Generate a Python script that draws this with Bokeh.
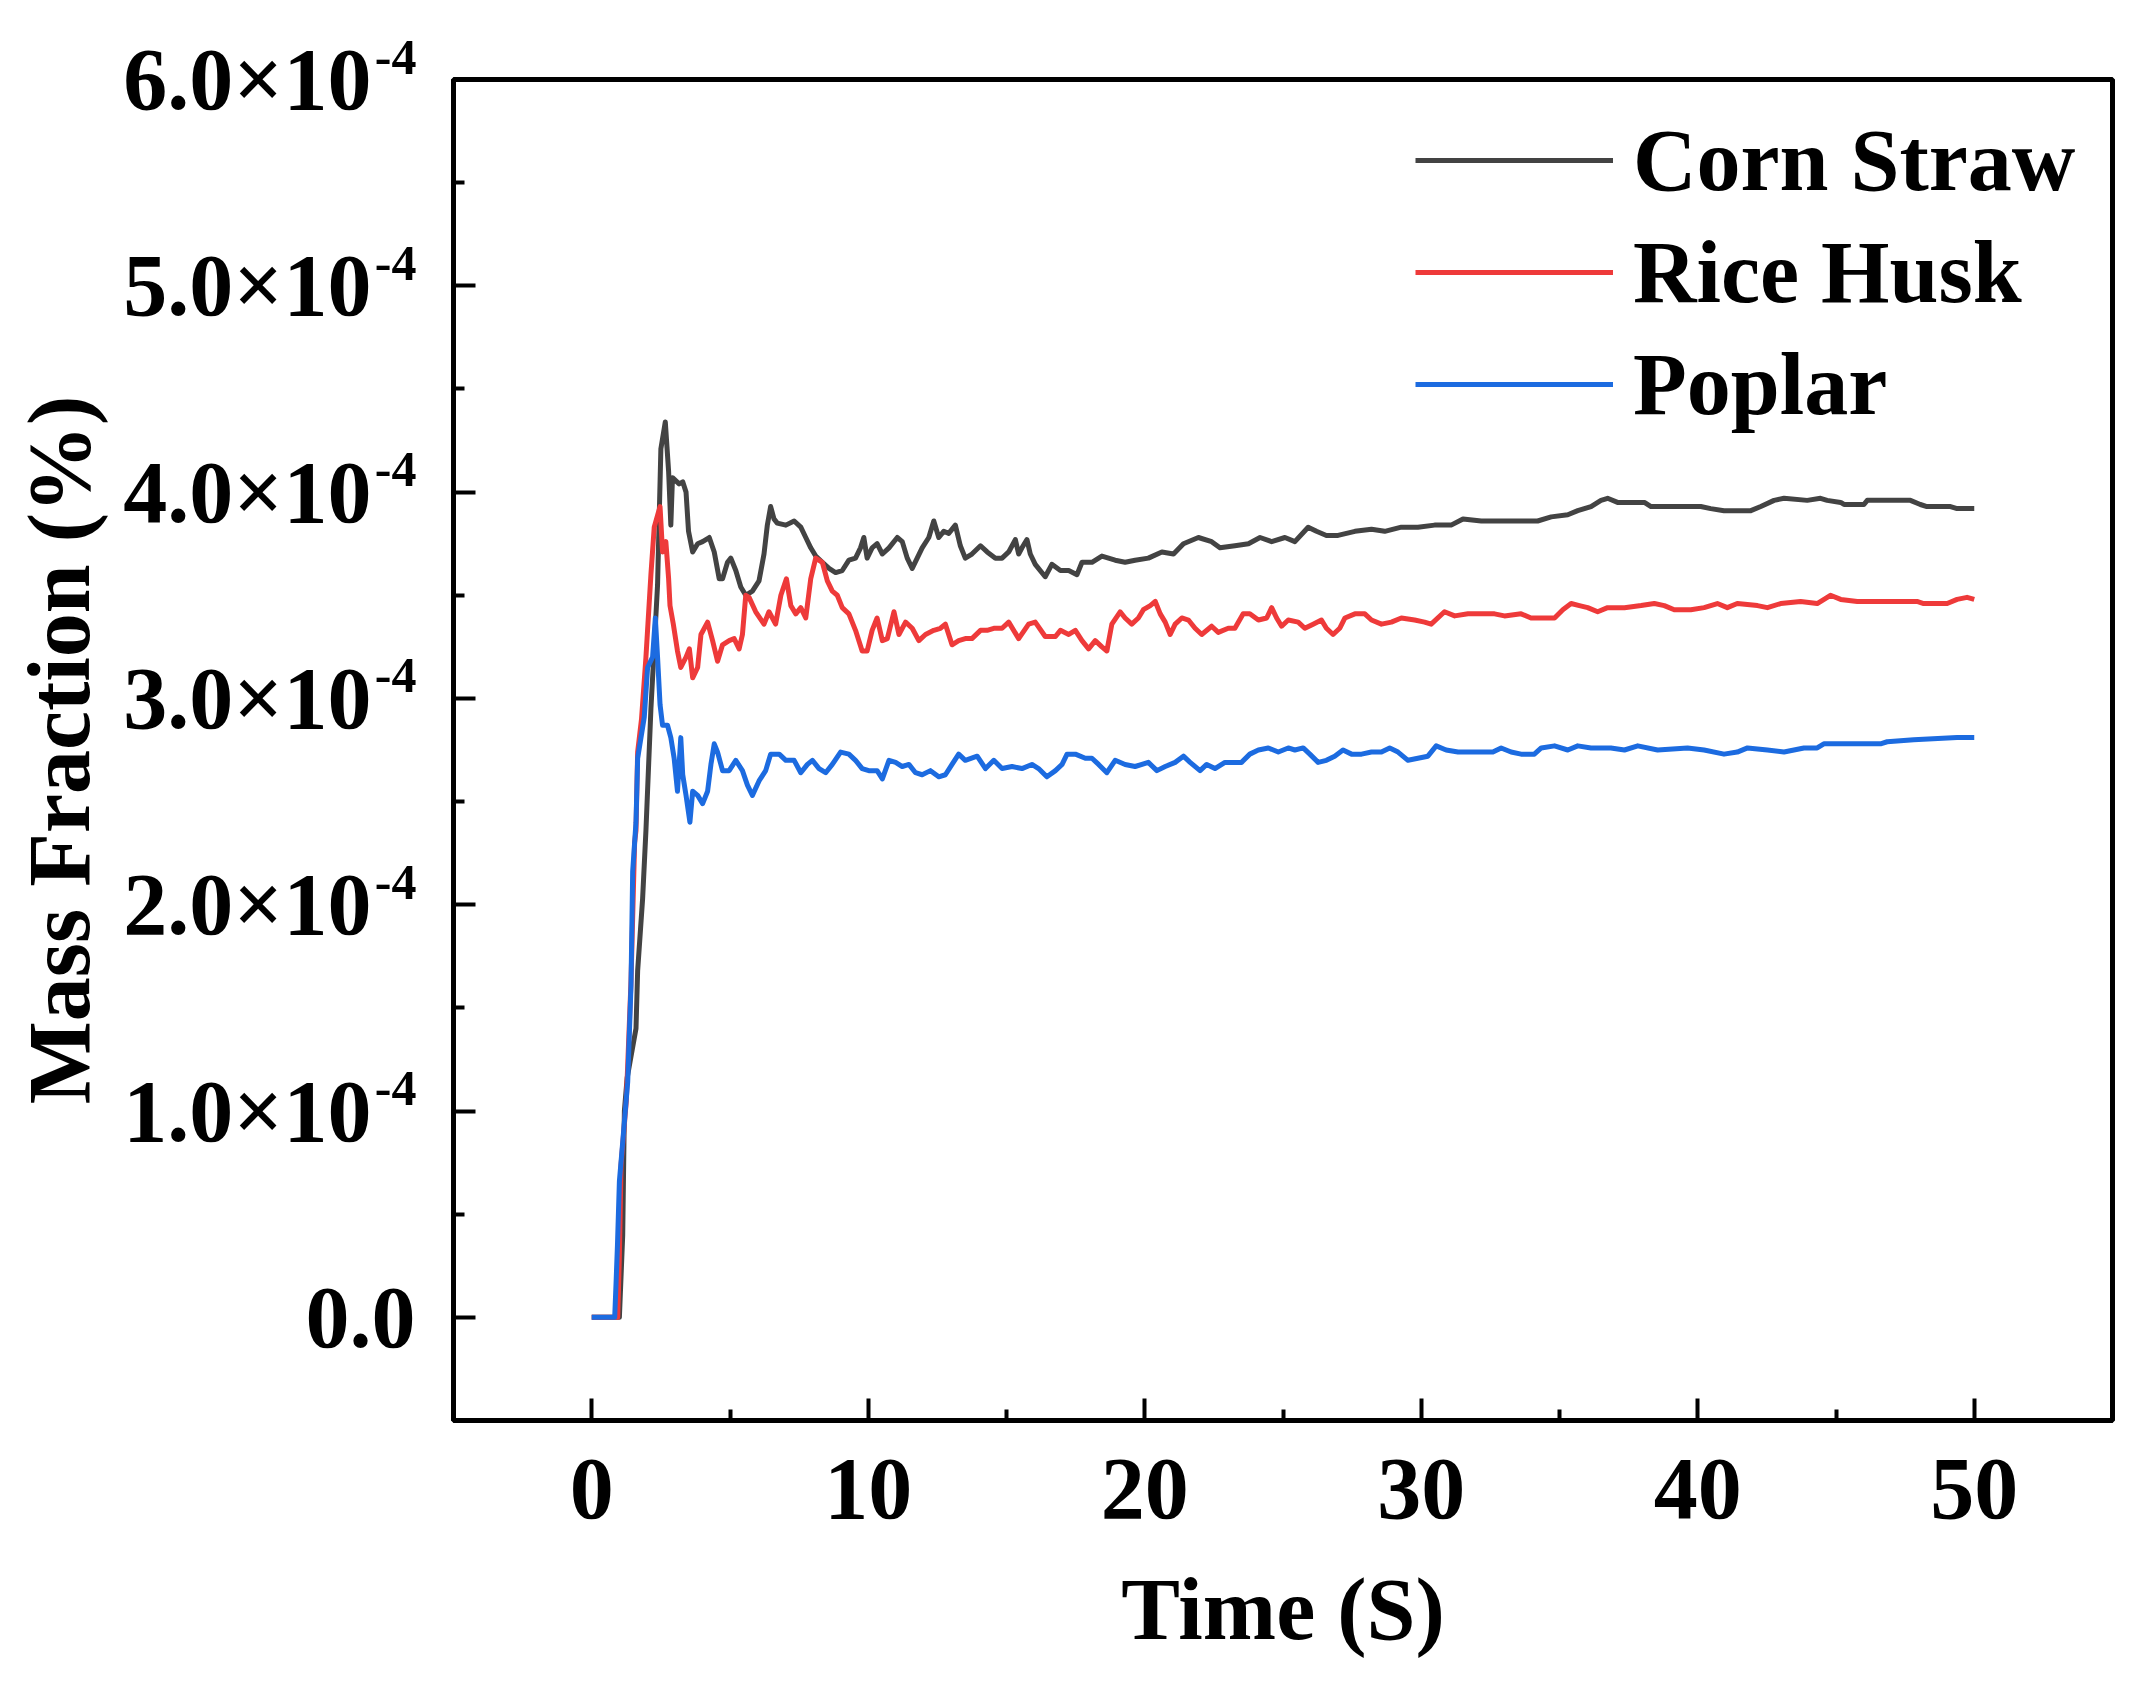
import numpy as np
from bokeh.plotting import figure
from bokeh.models import (Range1d, FixedTicker, CustomJSTickFormatter, Legend, LegendItem, LinearAxis)
from bokeh.embed import file_html
from bokeh.resources import INLINE

SCALE = 1e-4  # values below are in units of 1e-4

corn_t = [0, 1.00, 1.12, 1.18, 1.28, 1.60, 1.66, 1.84, 1.96, 2.14, 2.38, 2.50, 2.66, 2.78, 2.86, 2.92,
          3.16, 3.29, 3.41, 3.50, 3.65, 3.83, 4.01, 4.25, 4.43, 4.61, 4.73, 4.91, 5.03, 5.21, 5.39, 5.57,
          5.81, 6.05, 6.23, 6.35, 6.47, 6.59, 6.71, 7.02, 7.32, 7.56, 7.74, 7.92, 8.10, 8.34, 8.58, 8.82,
          9.06, 9.30, 9.54, 9.72, 9.84, 9.96, 10.14, 10.32, 10.51, 10.75, 11.05, 11.23, 11.41, 11.59,
          11.77, 11.95, 12.19, 12.37, 12.55, 12.73, 12.91, 13.15, 13.33, 13.51, 13.75, 14.06, 14.30,
          14.60, 14.84, 15.08, 15.32, 15.44, 15.56, 15.74, 15.86, 16.04, 16.40, 16.64, 16.95, 17.25,
          17.55, 17.73, 18.09, 18.45, 18.93, 19.29, 19.65, 20.13, 20.62, 21.04, 21.40, 21.94, 22.42,
          22.72, 23.26, 23.75, 24.17, 24.59, 25.07, 25.43, 25.91, 26.21, 26.57, 26.99, 27.60, 28.20,
          28.68, 29.28, 29.88, 30.48, 31.08, 31.51, 32.17, 32.53, 34.21, 34.70, 35.30, 35.66, 36.14,
          36.50, 36.74, 37.10, 38.07, 38.31, 40.11, 40.47, 40.95, 41.43, 41.92, 42.28, 42.76, 43.12,
          43.96, 44.44, 44.68, 45.17, 45.29, 46.01, 46.13, 47.69, 48.05, 48.29, 49.14, 49.38, 50.00]
corn_v = [0, 0, 0.40, 1.00, 1.16, 1.40, 1.68, 2.03, 2.36, 2.95, 3.55, 4.21, 4.34, 4.10, 3.84, 4.07,
          4.04, 4.05, 4.00, 3.81, 3.71, 3.75, 3.76, 3.78, 3.71, 3.58, 3.58, 3.66, 3.68, 3.62, 3.54, 3.50,
          3.52, 3.57, 3.70, 3.84, 3.93, 3.87, 3.85, 3.84, 3.86, 3.83, 3.78, 3.73, 3.69, 3.66, 3.63, 3.61,
          3.62, 3.67, 3.68, 3.73, 3.78, 3.68, 3.73, 3.75, 3.70, 3.73, 3.78, 3.76, 3.68, 3.63,
          3.68, 3.73, 3.78, 3.86, 3.78, 3.81, 3.80, 3.84, 3.74, 3.68, 3.70, 3.74, 3.71,
          3.68, 3.68, 3.71, 3.77, 3.70, 3.73, 3.77, 3.70, 3.65, 3.59, 3.65, 3.62, 3.62,
          3.60, 3.66, 3.66, 3.69, 3.67, 3.66, 3.67, 3.68, 3.71, 3.70, 3.75, 3.78, 3.76,
          3.73, 3.74, 3.75, 3.78, 3.76, 3.78, 3.76, 3.83, 3.81, 3.79, 3.79, 3.81, 3.82,
          3.81, 3.83, 3.83, 3.84, 3.84, 3.87, 3.86, 3.86, 3.86, 3.88, 3.89, 3.91, 3.93,
          3.96, 3.97, 3.95, 3.95, 3.93, 3.93, 3.92, 3.91, 3.91, 3.91, 3.93, 3.96, 3.97,
          3.96, 3.97, 3.96, 3.95, 3.94, 3.94, 3.96, 3.96, 3.94, 3.93, 3.93, 3.92, 3.92]

rice_t = [0, 0.94, 1.00, 1.06, 1.25, 1.42, 1.55, 1.60, 1.66, 1.80, 1.96, 2.14, 2.26, 2.47, 2.56, 2.68,
          2.78, 2.83, 2.95, 3.10, 3.22, 3.41, 3.53, 3.65, 3.83, 3.95, 4.19, 4.37, 4.55, 4.73, 4.97, 5.15,
          5.33, 5.45, 5.57, 5.69, 5.93, 6.23, 6.41, 6.65, 6.84, 7.04, 7.20, 7.38, 7.56, 7.74, 7.92, 8.10,
          8.34, 8.52, 8.70, 8.88, 9.06, 9.30, 9.54, 9.78, 9.96, 10.14, 10.32, 10.51, 10.69, 10.93, 11.11,
          11.35, 11.59, 11.83, 12.07, 12.37, 12.61, 12.79, 13.03, 13.27, 13.51, 13.75, 14.06, 14.30,
          14.54, 14.84, 15.08, 15.44, 15.80, 16.04, 16.40, 16.77, 16.95, 17.25, 17.49, 17.73, 17.97,
          18.21, 18.45, 18.63, 18.81, 19.11, 19.29, 19.53, 19.77, 19.95, 20.20, 20.38, 20.56, 20.74,
          20.92, 21.10, 21.34, 21.58, 21.82, 22.06, 22.42, 22.66, 23.02, 23.26, 23.56, 23.80, 24.11,
          24.41, 24.59, 24.77, 24.95, 25.19, 25.55, 25.79, 26.09, 26.39, 26.57, 26.81, 27.05, 27.24,
          27.60, 27.96, 28.20, 28.56, 28.92, 29.28, 29.76, 30.12, 30.36, 30.84, 31.21, 31.69, 32.17,
          32.65, 33.01, 33.61, 33.97, 34.34, 34.82, 35.12, 35.42, 35.72, 36.02, 36.38, 36.74, 37.35,
          37.95, 38.43, 38.79, 39.15, 39.75, 40.23, 40.71, 41.07, 41.43, 42.16, 42.52, 43.00, 43.72,
          44.32, 44.80, 45.17, 45.77, 47.93, 48.17, 49.02, 49.38, 49.74, 50.00]
rice_v = [0, 0, 0.30, 0.74, 1.05, 1.63, 2.30, 2.36, 2.74, 2.90, 3.20, 3.60, 3.83, 3.93, 3.71, 3.76,
          3.58, 3.45, 3.36, 3.23, 3.15, 3.20, 3.24, 3.10, 3.15, 3.31, 3.37, 3.28, 3.18, 3.26, 3.28, 3.29,
          3.24, 3.31, 3.50, 3.49, 3.42, 3.36, 3.42, 3.36, 3.50, 3.58, 3.45, 3.41, 3.44, 3.39, 3.58, 3.68,
          3.66, 3.57, 3.52, 3.50, 3.44, 3.41, 3.33, 3.23, 3.23, 3.33, 3.39, 3.28, 3.29, 3.42, 3.31,
          3.37, 3.34, 3.28, 3.31, 3.33, 3.34, 3.36, 3.26, 3.28, 3.29, 3.29, 3.33, 3.33,
          3.34, 3.34, 3.37, 3.29, 3.36, 3.37, 3.30, 3.30, 3.33, 3.31, 3.33, 3.28, 3.24,
          3.28, 3.25, 3.23, 3.36, 3.42, 3.39, 3.36, 3.39, 3.43, 3.45, 3.47, 3.41, 3.37,
          3.31, 3.36, 3.39, 3.38, 3.34, 3.31, 3.35, 3.32, 3.34, 3.34, 3.41, 3.41, 3.38,
          3.39, 3.44, 3.39, 3.35, 3.38, 3.37, 3.34, 3.36, 3.38, 3.34, 3.31, 3.34, 3.39,
          3.41, 3.41, 3.38, 3.36, 3.37, 3.39, 3.38, 3.37, 3.36, 3.42, 3.40, 3.41, 3.41,
          3.41, 3.40, 3.41, 3.39, 3.39, 3.39, 3.43, 3.46, 3.45, 3.44, 3.42, 3.44, 3.44,
          3.45, 3.46, 3.45, 3.43, 3.43, 3.44, 3.46, 3.44, 3.46, 3.45, 3.44, 3.46, 3.47,
          3.46, 3.50, 3.48, 3.47, 3.47, 3.46, 3.46, 3.48, 3.49, 3.48]

poplar_t = [0, 0.83, 0.88, 0.93, 1.00, 1.12, 1.30, 1.42, 1.48, 1.60, 1.66, 1.90, 2.02, 2.20, 2.30, 2.38,
            2.47, 2.56, 2.74, 2.86, 2.98, 3.10, 3.22, 3.29, 3.41, 3.55, 3.65, 3.83, 4.01, 4.19, 4.31, 4.43,
            4.55, 4.73, 4.97, 5.21, 5.45, 5.63, 5.81, 6.05, 6.29, 6.47, 6.78, 7.02, 7.32, 7.56, 7.80, 7.98,
            8.22, 8.46, 8.70, 9.00, 9.30, 9.54, 9.78, 10.02, 10.32, 10.51, 10.75, 10.99, 11.23, 11.47,
            11.71, 11.95, 12.25, 12.55, 12.79, 13.03, 13.27, 13.51, 13.94, 14.24, 14.54, 14.84, 15.20,
            15.56, 15.92, 16.16, 16.46, 16.77, 17.01, 17.19, 17.49, 17.85, 18.09, 18.33, 18.63, 18.93,
            19.29, 19.65, 20.13, 20.44, 20.74, 21.10, 21.40, 21.64, 22.00, 22.24, 22.54, 22.90, 23.26,
            23.50, 23.80, 24.11, 24.47, 24.83, 25.19, 25.43, 25.73, 25.97, 26.27, 26.57, 26.87, 27.17,
            27.48, 27.84, 28.20, 28.56, 28.86, 29.16, 29.52, 29.88, 30.24, 30.54, 30.90, 31.33, 31.69,
            32.17, 32.59, 32.89, 33.25, 33.61, 34.09, 34.34, 34.82, 35.30, 35.66, 36.14, 36.86, 37.35,
            37.83, 38.55, 39.63, 40.23, 40.95, 41.43, 41.80, 42.52, 43.12, 43.84, 44.32, 44.56, 46.61,
            46.85, 47.81, 49.38, 49.62, 50.00]
poplar_v = [0, 0, 0.17, 0.35, 0.66, 0.85, 1.14, 1.61, 2.16, 2.40, 2.71, 2.91, 3.15, 3.20, 3.39, 3.20,
            2.97, 2.87, 2.87, 2.81, 2.71, 2.55, 2.81, 2.63, 2.53, 2.40, 2.55, 2.53, 2.49, 2.55, 2.68, 2.78,
            2.74, 2.65, 2.65, 2.70, 2.65, 2.58, 2.53, 2.60, 2.65, 2.73, 2.73, 2.70, 2.70, 2.64, 2.68, 2.70,
            2.66, 2.64, 2.68, 2.74, 2.73, 2.70, 2.66, 2.65, 2.65, 2.61, 2.70, 2.69, 2.67, 2.68,
            2.64, 2.63, 2.65, 2.62, 2.63, 2.68, 2.73, 2.70, 2.72, 2.66, 2.70, 2.66, 2.67,
            2.66, 2.68, 2.66, 2.62, 2.65, 2.68, 2.73, 2.73, 2.71, 2.71, 2.68, 2.64, 2.70,
            2.68, 2.67, 2.69, 2.65, 2.67, 2.69, 2.72, 2.69, 2.65, 2.68, 2.66, 2.69, 2.69,
            2.69, 2.73, 2.75, 2.76, 2.74, 2.76, 2.75, 2.76, 2.73, 2.69, 2.70, 2.72, 2.75,
            2.73, 2.73, 2.74, 2.74, 2.76, 2.74, 2.70, 2.71, 2.72, 2.77, 2.75, 2.74, 2.74,
            2.74, 2.74, 2.76, 2.74, 2.73, 2.73, 2.76, 2.77, 2.75, 2.77, 2.76, 2.76, 2.75,
            2.77, 2.75, 2.76, 2.75, 2.73, 2.74, 2.76, 2.75, 2.74, 2.76, 2.76, 2.78, 2.78,
            2.79, 2.80, 2.81, 2.81, 2.81]

series_names = ["Corn Straw", "Rice Husk", "Poplar"]
series_colors = ["#434343", "#ee3a3a", "#1c6be0"]

x_ticks = [0, 10, 20, 30, 40, 50]
x_minor = [5, 15, 25, 35, 45]
y_tick_mantissas = [0, 1, 2, 3, 4, 5, 6]
y_exponent = "-4"
y_ticks = [m * SCALE for m in y_tick_mantissas]
y_minor = [(m + 0.5) * SCALE for m in y_tick_mantissas[:-1]]

FONT = "Liberation Serif"
FS = "88px"

p = figure(width=2126, height=1674, output_backend="svg", toolbar_location=None,
           x_range=Range1d(-5, 55), y_range=Range1d(-0.5 * SCALE, 6.0 * SCALE),
           min_border_left=453, min_border_right=14, min_border_top=79, min_border_bottom=254)
p.background_fill_color = "white"
p.border_fill_color = "white"
p.grid.visible = False
p.outline_line_color = "black"
p.outline_line_width = 5

renderers = []
for (t, v), name, col in zip([(corn_t, corn_v), (rice_t, rice_v), (poplar_t, poplar_v)],
                             series_names, series_colors):
    r = p.line(np.array(t), np.array(v) * SCALE, line_color=col, line_width=5, line_join="round")
    renderers.append(r)

# ---- x axis
xa = p.xaxis[0]
xa.ticker = FixedTicker(ticks=x_ticks, minor_ticks=x_minor)
xa.axis_label = "Time (S)"
xa.major_label_standoff = 39
xa.axis_label_standoff = 40

# ---- y axis 1 (at the frame): line and inward ticks only
ya = p.yaxis[0]
ya.ticker = FixedTicker(ticks=y_ticks, minor_ticks=y_minor)
ya.formatter = CustomJSTickFormatter(code='return "";')
ya.major_label_standoff = 0

for ax in [xa, ya]:
    ax.axis_line_width = 5
    ax.axis_line_color = "black"
    ax.major_tick_line_width = 4
    ax.minor_tick_line_width = 4
    ax.major_tick_in = 22
    ax.major_tick_out = 0
    ax.minor_tick_in = 11
    ax.minor_tick_out = 0

# ---- y axis 2: superscript exponents of the tick labels
ya_exp = LinearAxis(ticker=FixedTicker(ticks=y_ticks, minor_ticks=[]),
                    formatter=CustomJSTickFormatter(args=dict(e=y_exponent), code="""
const m = tick / 1e-4;
if (Math.abs(m) < 1e-9) { return ""; }
return e + "\\n\\u2007";
"""))
ya_exp.major_label_text_font_size = "50px"
ya_exp.major_label_text_line_height = 0.82
ya_exp.major_label_standoff = 37

# ---- y axis 3: mantissa part of the tick labels and the axis title
ya_man = LinearAxis(ticker=FixedTicker(ticks=y_ticks, minor_ticks=[]),
                    formatter=CustomJSTickFormatter(code="""
const m = tick / 1e-4;
if (Math.abs(m) < 1e-9) { return "0.0"; }
return m.toFixed(1) + "\\u00d710\\u2007";
"""))
ya_man.major_label_text_font_size = FS
ya_man.major_label_standoff = -44
ya_man.axis_label = "Mass Fraction (%)"
ya_man.axis_label_standoff = 12

for ax in [ya_exp, ya_man]:
    ax.axis_line_color = None
    ax.major_tick_line_color = None
    ax.minor_tick_line_color = None
    ax.major_tick_out = 0
    ax.major_tick_in = 0
    ax.minor_tick_out = 0
    ax.minor_tick_in = 0

for ax in [xa, ya, ya_exp, ya_man]:
    ax.major_label_text_font = FONT
    ax.major_label_text_font_style = "bold"
    ax.major_label_text_color = "black"
    ax.axis_label_text_font = FONT
    ax.axis_label_text_font_style = "bold"
    ax.axis_label_text_font_size = FS
    ax.axis_label_text_color = "black"
xa.major_label_text_font_size = FS

p.add_layout(ya_exp, "left")
p.add_layout(ya_man, "left")

legend = Legend(items=[LegendItem(label=n, renderers=[r]) for n, r in zip(series_names, renderers)],
                location=(962, 980), glyph_width=198, glyph_height=112, label_height=112,
                label_standoff=20, spacing=-6, padding=0, margin=0,
                border_line_alpha=0, background_fill_alpha=0,
                label_text_font=FONT, label_text_font_style="bold", label_text_font_size=FS,
                label_text_color="black")
p.add_layout(legend)

open("out.html", "w").write(file_html(p, INLINE))
